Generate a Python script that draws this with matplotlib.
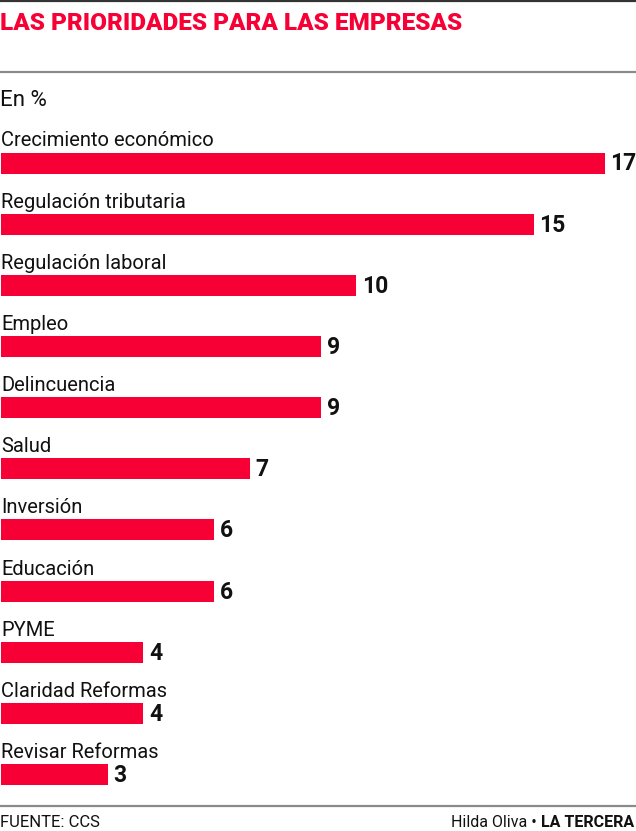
import matplotlib.pyplot as plt
from matplotlib.lines import Line2D

# datos
categorias = ['Crecimiento económico', 'Regulación tributaria', 'Regulación laboral',
              'Empleo', 'Delincuencia', 'Salud', 'Inversión', 'Educación', 'PYME',
              'Claridad Reformas', 'Revisar Reformas']
valores = [17, 15, 10, 9, 9, 7, 6, 6, 4, 4, 3]

titulo = 'LAS PRIORIDADES PARA LAS EMPRESAS'
unidad = 'En %'
fuente = 'FUENTE: CCS'
autor = 'Hilda Oliva • '
medio = 'LA TERCERA'

ROJO = '#F70036'
W, H = 636, 831
plt.rcParams['font.family'] = ['Roboto', 'DejaVu Sans']

fig = plt.figure(figsize=(W / 100, H / 100), dpi=100)
fig.patch.set_facecolor('white')

# eje de barras: ocupa toda la figura, escala ~35.5 px por unidad
px_unidad = 35.5
paso = 61.15
y0 = 163.0
ax = fig.add_axes([0, 0, 1, 1])
ax.set_xlim(-1 / px_unidad, (W - 1) / px_unidad)
ax.set_ylim((H - y0) / paso, -y0 / paso)
ax.axis('off')

alto = 21 / paso
pos = list(range(len(categorias)))
ax.barh(pos, valores, height=alto, color=ROJO, left=0)

for i, (cat, v) in enumerate(zip(categorias, valores)):
    ax.text(0, i - alto / 2 - 6 / paso, cat, fontsize=14.5, color='#111111',
            ha='left', va='baseline')
    ax.text(v + 6 / px_unidad, i + 1 / paso, str(v), fontsize=16.5, fontweight='bold',
            color='#111111', ha='left', va='center')

# lineas horizontales
def linea(y_px, color, lw):
    fig.add_artist(Line2D([0, 1], [1 - y_px / H, 1 - y_px / H], color=color, lw=lw,
                          transform=fig.transFigure))

linea(0.8, '#333333', 1.6)
linea(72, '#8a8a8a', 1.6)
linea(806, '#8a8a8a', 1.6)

# textos de cabecera y pie
fig.text(0, 1 - 30 / H, titulo, fontsize=17.5, fontweight='heavy', color=ROJO,
         ha='left', va='baseline')
fig.text(0, 1 - 106 / H, unidad, fontsize=16, color='#111111', ha='left', va='baseline')
fig.text(0, 1 - 827 / H, fuente, fontsize=12, color='#111111', ha='left', va='baseline')
t_medio = fig.text(1 - 2 / W, 1 - 827 / H, medio, fontsize=11.5, fontweight='bold',
                   color='#111111', ha='right', va='baseline')
fig.canvas.draw()
bb = t_medio.get_window_extent()
fig.text(bb.x0 / W, 1 - 827 / H, autor, fontsize=11.5, color='#111111',
         ha='right', va='baseline')

plt.savefig('out.png', dpi=100, facecolor='white')
